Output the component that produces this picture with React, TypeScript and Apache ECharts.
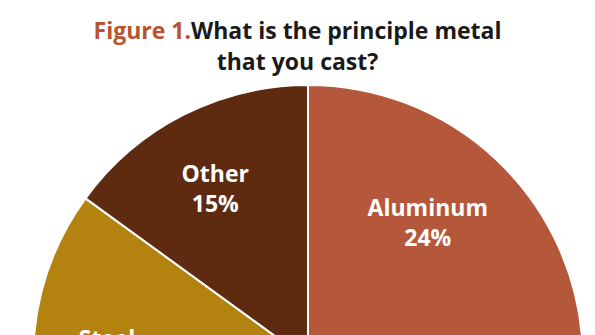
import React, { useEffect, useRef } from "react";
import * as echarts from "echarts";

const categories = ["Aluminum", "Iron", "Steel", "Other"];
const shares = [24, 43, 18, 15];
const sliceColors = ["#B5573A", "#7A5A2E", "#B3820F", "#5E2B11"];
const titleLead = "Figure 1.";
const titleLine1 = "What is the principle metal";
const titleLine2 = "that you cast?";

export default function App() {
  const ref = useRef<HTMLDivElement>(null);
  useEffect(() => {
    document.body.style.margin = "0";
    const chart = echarts.init(ref.current!, null, { renderer: "svg" });
    const R = 275;
    const font = "'Open Sans', 'DejaVu Sans', sans-serif";
    // small hand-placement nudges of the labels, as in the original figure
    const nudges = [[-14, 5], [0, 0], [-6, 5], [-4, 2]];
    const labelData = categories.map((c, i) => ({
      name: c,
      value: shares[i],
      label: { show: c !== "Iron" },
    }));
    chart.setOption({
      animation: false,
      backgroundColor: "#ffffff",
      title: {
        text: `{a|${titleLead}}{b|${titleLine1}}\n{b|${titleLine2}}`,
        left: "center",
        top: 9,
        textStyle: {
          rich: {
            a: { fontFamily: font, fontWeight: "bold", fontSize: 23, color: "#B9532F", lineHeight: 31 },
            b: { fontFamily: font, fontWeight: "bold", fontSize: 23, color: "#1a1a1a", lineHeight: 31 },
          },
        },
      },
      series: [
        {
          type: "pie",
          center: [308, 360],
          radius: [0, R],
          startAngle: 90,
          clockwise: true,
          silent: true,
          data: categories.map((c, i) => ({ name: c, value: shares[i], itemStyle: { color: sliceColors[i] } })),
          itemStyle: { borderColor: "#ffffff", borderWidth: 2 },
          label: { show: false },
          labelLine: { show: false },
        },
        {
          type: "pie",
          center: [308, 360],
          radius: [R * 0.4, R],
          startAngle: 90,
          clockwise: true,
          silent: true,
          data: labelData,
          itemStyle: { color: "rgba(0,0,0,0)", borderWidth: 0 },
          label: {
            position: "inside",
            formatter: "{b}\n{d}%",
            color: "#ffffff",
            fontFamily: font,
            fontWeight: "bold",
            fontSize: 23,
            lineHeight: 30,
          },
          labelLayout: (p: any) => ({ dx: nudges[p.dataIndex][0], dy: nudges[p.dataIndex][1] }),
          labelLine: { show: false },
        },
      ],
    });
    return () => chart.dispose();
  }, []);
  return <div ref={ref} style={{ width: 595, height: 335 }} />;
}
